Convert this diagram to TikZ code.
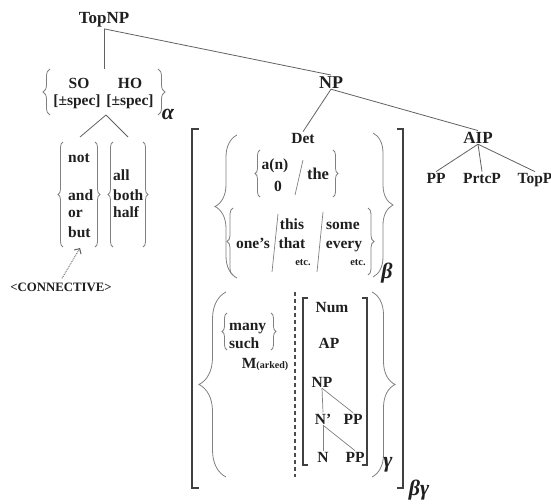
\documentclass[tikz,border=0pt]{standalone}
\usepackage{fontspec}
\setmainfont{Liberation Serif}
\usetikzlibrary{decorations.pathreplacing,arrows.meta}
\definecolor{txt}{gray}{0.12}
\definecolor{ln}{gray}{0.38}
\definecolor{brc}{gray}{0.5}
\begin{document}
\begin{tikzpicture}[x=1pt,y=-1pt,
  every node/.style={font=\fontsize{15.5}{17}\selectfont\bfseries, text=txt, inner sep=1pt, anchor=base},
  lbl/.style={font=\fontsize{17}{19}\selectfont\bfseries},
  big/.style={font=\fontsize{18}{20}\selectfont\bfseries},
  tiny/.style={font=\fontsize{10.5}{12}\selectfont\bfseries},
  greek/.style={font=\fontsize{22}{24}\selectfont\bfseries\itshape},
  lw/.style={anchor=base west},
  edge/.style={draw=ln, line width=0.8pt},
  sub/.style={draw=brc, line width=0.7pt},
  bk/.style={draw=black!75, line width=1.4pt},
  brA/.style={draw=brc, line width=0.8pt, decorate, decoration={brace, amplitude=#1}},
]
\useasboundingbox (0,0) rectangle (551,503);

% ---- top ----
\node[lbl] (topnp) at (104,24) {TopNP};
\node (so) at (79,88) {SO};
\node (ho) at (130,88) {HO};
\node (sp1) at (77,105) {[±spec]};
\node (sp2) at (130,105) {[±spec]};
\node[greek] (alpha) at (168,119) {α};
\coordinate (atop) at (106,69);
\coordinate (abot) at (106,115);
\draw[brA=7] (50,115) -- (50,69);
\draw[brA=7] (158,69) -- (158,115);
\draw[edge] (topnp.south) -- (topnp.south |- atop);

% ---- left lists ----
\node[lw] (not) at (67,162) {not};
\node[lw] (and) at (67,200) {and};
\node[lw] (or) at (67,217) {or};
\node[lw] (but) at (67,237) {but};
\node[lw] (all) at (112,180) {all};
\node[lw] (both) at (112,200) {both};
\node[lw] (half) at (112,217) {half};
\coordinate (g1) at (80,137);
\coordinate (g2) at (128,137);
\coordinate (g1b) at (80,248);
\draw[brA=5] (63,247) -- (63,142);
\draw[brA=5] (95,142) -- (95,247);
\draw[brA=5] (113,247) -- (113,142);
\draw[brA=5] (143,142) -- (143,247);
\draw[edge] (abot) -- (g1);
\draw[edge] (abot) -- (g2);
\node[font=\fontsize{12.8}{14}\selectfont\bfseries] (conn) at (61,291) {<CONNECTIVE>};
\draw[draw=ln, line width=0.9pt, densely dotted, -{Straight Barb[length=4pt,width=8pt,line width=1pt]}] (conn.north) ++(1,-3) -- (g1b);

% ---- NP ----
\node[big] (np) at (331,88) {NP};
\draw[edge] (topnp.south) -- (np.north);
\node (det) at (303,143) {Det};
\draw[edge] (np.south) -- (det.north);
\node[lbl] (aip) at (478,143) {AIP};
\draw[edge] (np.south) -- (aip.north);
\node (pp) at (436,183) {PP};
\node (prtcp) at (482,183) {PrtcP};
\node (topp) at (535,183) {TopP};
\draw[edge] (aip.south) -- (pp.north);
\draw[edge] (aip.south) -- (prtcp.north);
\draw[edge] (aip.south) -- (topp.north);

% big bracket
\draw[bk] (199,129) -- (192,129) -- (192,488) -- (199,488);
\draw[bk] (397,129) -- (403,129) -- (403,488) -- (397,488);
\node[greek] (bg) at (419,495) {βγ};

% beta brace
\draw[brA=22] (237,278) -- (237,135);
\draw[brA=20] (373,133) -- (373,277);
\node[greek] (beta) at (387,278) {β};

% a(n)/the
\draw[brA=5] (260,197) -- (260,150);
\draw[brA=5] (333,150) -- (333,197);
\node (an) at (275,169) {a(n)};
\node (zero) at (278,191) {0};
\node[font=\fontsize{16.5}{18}\selectfont\bfseries] (the) at (318,179) {the};
\draw[sub] (303,160) -- (295,195);

% one's / this that / some every
\draw[brA=6] (233,275) -- (233,208);
\draw[brA=6] (368,208) -- (368,275);
\node (ones) at (253,248) {one’s};
\draw[sub] (278,214) -- (272,272);
\node (this) at (292,229) {this};
\node (that) at (292,248) {that};
\node[tiny] (etc1) at (303,265) {etc.};
\draw[sub] (323,212) -- (317,272);
\node (some) at (343,229) {some};
\node (every) at (344,248) {every};
\node[tiny] (etc2) at (358,265) {etc.};

% gamma brace
\draw[brA=27] (226,477) -- (226,292);
\draw[brA=23] (372,292) -- (372,477);
\node[greek] (gamma) at (388,467) {γ};

% many such
\draw[brA=5] (227,350) -- (227,313);
\draw[brA=5] (271,313) -- (271,350);
\node[lw] (many) at (228,330) {many};
\node[lw] (such) at (228,348) {such};
\node (marked) at (265,368) {M\fontsize{10}{12}\selectfont(arked)};

% dashed separator
\draw[draw=black!70, line width=1.4pt, dash pattern=on 4pt off 3pt] (295,292) -- (295,477);

% inner bracket
\draw[bk, line width=1.1pt] (308,298) -- (303,298) -- (303,465) -- (308,465);
\draw[bk, line width=1.1pt] (362,298) -- (367,298) -- (367,465) -- (362,465);
\node (num) at (332,312) {Num};
\node (ap) at (329,348) {AP};
\node (np2) at (322,387) {NP};
\node (nbar) at (323,424) {N’};
\node (pp1) at (353,424) {PP};
\node (n) at (323,462) {N};
\node (pp2) at (355,462) {PP};
\draw[sub] (np2.south) -- (nbar.north);
\draw[sub] (np2.south) -- (pp1.north);
\draw[sub] (nbar.south) -- (n.north);
\draw[sub] (nbar.south) -- (pp2.north);
\end{tikzpicture}
\end{document}
